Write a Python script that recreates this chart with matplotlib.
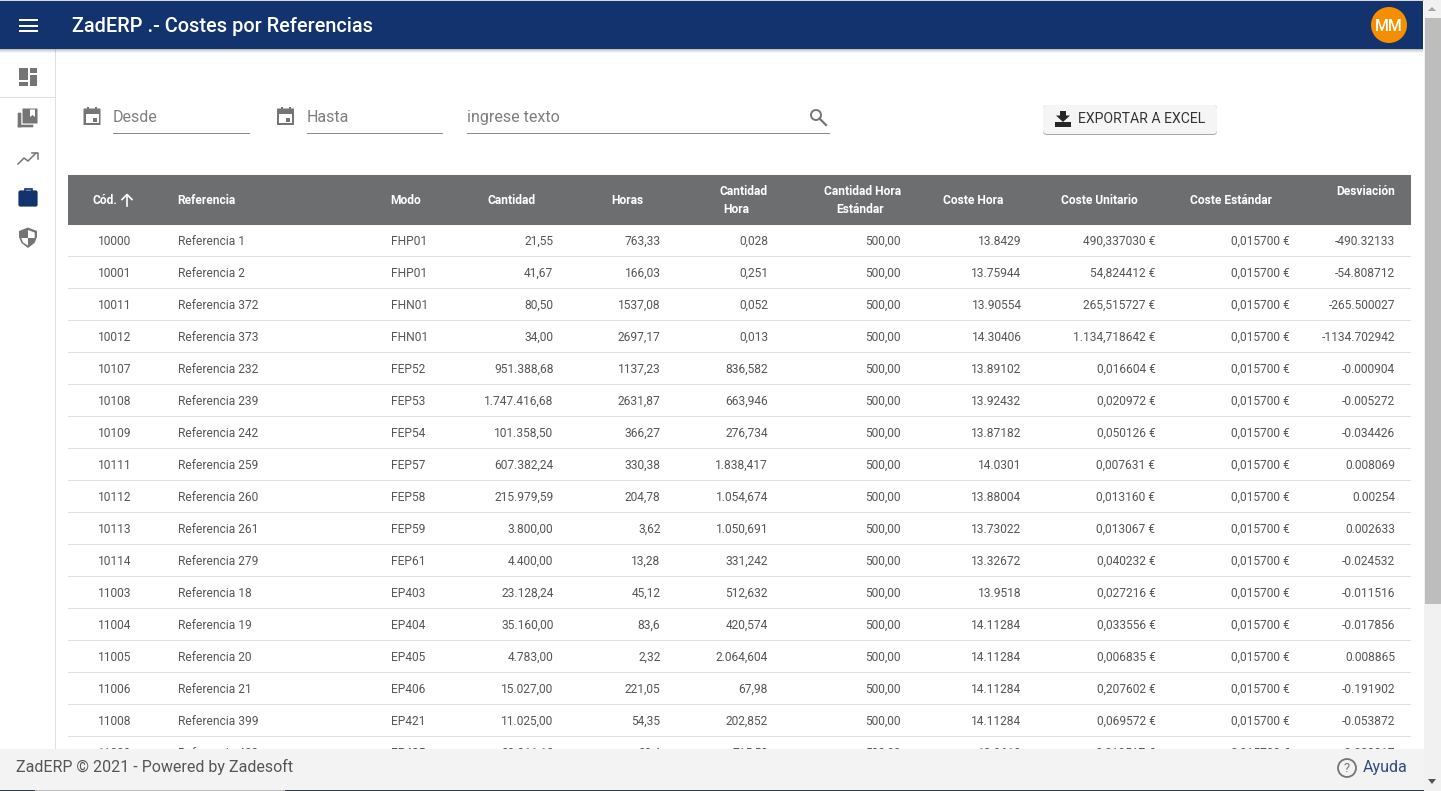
import matplotlib
matplotlib.use("Agg")
import matplotlib.pyplot as plt
from matplotlib.patches import Rectangle, Circle, Polygon, FancyBboxPatch

W, H = 1441, 791
plt.rcParams['font.family'] = ['Roboto', 'DejaVu Sans']

codes = ["10000","10001","10011","10012","10107","10108","10109","10111","10112","10113","10114","11003","11004","11005","11006","11008","11009"]
refs = ["Referencia 1","Referencia 2","Referencia 372","Referencia 373","Referencia 232","Referencia 239","Referencia 242","Referencia 259","Referencia 260","Referencia 261","Referencia 279","Referencia 18","Referencia 19","Referencia 20","Referencia 21","Referencia 399","Referencia 400"]
modos = ["FHP01","FHP01","FHN01","FHN01","FEP52","FEP53","FEP54","FEP57","FEP58","FEP59","FEP61","EP403","EP404","EP405","EP406","EP421","EP425"]
cantidad = ["21,55","41,67","80,50","34,00","951.388,68","1.747.416,68","101.358,50","607.382,24","215.979,59","3.800,00","4.400,00","23.128,24","35.160,00","4.783,00","15.027,00","11.025,00","20.311,10"]
horas = ["763,33","166,03","1537,08","2697,17","1137,23","2631,87","366,27","330,38","204,78","3,62","13,28","45,12","83,6","2,32","221,05","54,35","28,4"]
cant_hora = ["0,028","0,251","0,052","0,013","836,582","663,946","276,734","1.838,417","1.054,674","1.050,691","331,242","512,632","420,574","2.064,604","67,98","202,852","715,53"]
cant_std = ["500,00"] * 17
coste_hora = ["13.8429","13.75944","13.90554","14.30406","13.89102","13.92432","13.87182","14.0301","13.88004","13.73022","13.32672","13.9518","14.11284","14.11284","14.11284","14.11284","13.9610"]
coste_unit = ["490,337030 €","54,824412 €","265,515727 €","1.134,718642 €","0,016604 €","0,020972 €","0,050126 €","0,007631 €","0,013160 €","0,013067 €","0,040232 €","0,027216 €","0,033556 €","0,006835 €","0,207602 €","0,069572 €","0,019517 €"]
coste_std = ["0,015700 €"] * 17
desv = ["-490.32133","-54.808712","-265.500027","-1134.702942","-0.000904","-0.005272","-0.034426","0.008069","0.00254","0.002633","-0.024532","-0.011516","-0.017856","0.008865","-0.191902","-0.053872","-0.003817"]

NAVY = "#12336E"; HEAD = "#6D6E70"; GREY = "#757575"; TXT = "#555555"

fig = plt.figure(figsize=(W/100, H/100), dpi=100, facecolor="white")
ax = fig.add_axes([0, 0, 1, 1])
ax.set_xlim(0, W); ax.set_ylim(H, 0); ax.axis("off")

def rect(x, y, w, h, c, z=1, **k):
    ax.add_patch(Rectangle((x, y), w, h, facecolor=c, edgecolor="none", zorder=z, **k))
def text(x, y, s, size=12, c=TXT, ha="left", va="baseline", w="normal", z=3, **k):
    ax.text(x, y, s, fontsize=size*0.72, color=c, ha=ha, va=va, fontweight=w, zorder=z, **k)

# ---- table rows
rows = list(zip(codes, refs, modos, cantidad, horas, cant_hora, cant_std, coste_hora, coste_unit, coste_std, desv))
col_x = [115, 177.5, 390.5, 553.5, 660.5, 768, 901, 1021.5, 1155.5, 1289.5, 1395]
col_ha = ["center", "left", "left"] + ["right"] * 8
for i, row in enumerate(rows):
    y = 241 + 32 * i
    for x, ha, s in zip(col_x, col_ha, row):
        text(x, y + 4, s, ha=ha)
    rect(68, y + 15, 1343, 1, "#E0E0E0", 2)

# ---- table header
rect(68, 175, 1343, 50, HEAD)
HW = "bold"
text(92.5, 204, "Cód.", c="white", w=HW)
ax.plot([127, 127], [194.5, 205.5], color="white", lw=1.2, zorder=3)
ax.plot([122, 127, 132], [199.5, 194.5, 199.5], color="white", lw=1.2, zorder=3)
for x, ha, s in [(177.5, "left", "Referencia"), (390.5, "left", "Modo"), (536, "right", "Cantidad"),
                 (643, "right", "Horas"), (1003.5, "right", "Coste Hora"), (1137.5, "right", "Coste Unitario"),
                 (1271.5, "right", "Coste Estándar")]:
    text(x, 204, s, c="white", ha=ha, w=HW)
text(719, 195, "Cantidad", c="white", w=HW)
text(723, 213, "Hora", c="white", w=HW)
text(824, 195, "Cantidad Hora", c="white", w=HW)
text(836, 213, "Estándar", c="white", w=HW)
text(1395, 195, "Desviación", c="white", ha="right", w=HW)

# ---- sidebar
rect(55, 49, 1, 701, "#E0E0E0", 2)
rect(0, 97, 55, 1, "#E0E0E0", 2)
rect(19, 68, 9, 12, GREY, 3); rect(19, 82, 9, 4, GREY, 3)
rect(30, 68, 7, 5, GREY, 3); rect(30, 75, 7, 11, GREY, 3)
# library icon
ax.add_patch(FancyBboxPatch((18, 113), 3, 14, boxstyle="round,pad=0.3", fc=GREY, ec="none", zorder=3))
ax.add_patch(FancyBboxPatch((18, 125), 15, 2, boxstyle="round,pad=0.3", fc=GREY, ec="none", zorder=3))
ax.add_patch(FancyBboxPatch((23, 109), 14, 14, boxstyle="round,pad=0.5", fc=GREY, ec="none", zorder=3))
ax.add_patch(Polygon([(30, 109.5), (35, 109.5), (35, 117), (32.5, 115), (30, 117)], fc="white", ec="none", zorder=4))
# trending icon
ax.plot([18, 24, 28, 36], [164, 158, 161, 153], color=GREY, lw=1.1, zorder=3)
ax.plot([31.5, 37.5, 37.5], [152.5, 152.5, 158.5], color=GREY, lw=1.1, zorder=3)
# briefcase
ax.add_patch(FancyBboxPatch((19, 191), 18, 15, boxstyle="round,pad=0.6,rounding_size=2", fc=NAVY, ec="none", zorder=3))
ax.add_patch(Rectangle((24.5, 188.5), 7, 3, fc="none", ec=NAVY, lw=1.2, zorder=3))
# shield
ax.add_patch(Polygon([(28, 227.5), (37, 231), (37, 237), (34.5, 243), (28, 248), (21.5, 243), (19, 237), (19, 231)], fc=GREY, ec="none", zorder=3))
ax.add_patch(Polygon([(28, 230), (34.7, 232.6), (34.7, 238), (28, 238)], fc="white", ec="none", zorder=4))
ax.add_patch(Polygon([(28, 238), (21.3, 238), (23, 242.5), (28, 245.6)], fc="white", ec="none", zorder=4))

# ---- filters
def calendar(cx):
    ax.add_patch(FancyBboxPatch((cx - 8, 109), 16, 15.5, boxstyle="round,pad=0.5", fc=GREY, ec="none", zorder=3))
    rect(cx - 6.5, 113.5, 13, 9.5, "white", 4)
    rect(cx + 0.5, 117.5, 4, 4, GREY, 5)
    rect(cx - 5, 106.5, 2, 3, GREY, 3); rect(cx + 3, 106.5, 2, 3, GREY, 3)
calendar(92); calendar(285.5)
FIELD = "#7E7E7E"
text(113, 122, "Desde", size=16, c=FIELD)
text(307, 122, "Hasta", size=16, c=FIELD)
text(467, 122, "ingrese texto", size=16, c=FIELD)
rect(113, 133, 137, 1, "#8A8A8A", 2)
rect(307, 133, 136, 1, "#8A8A8A", 2)
rect(467, 133, 363, 1, "#8A8A8A", 2)
ax.add_patch(Circle((816, 115), 5, fc="none", ec=GREY, lw=1.4, zorder=3))
ax.plot([819.5, 826], [118.5, 125], color=GREY, lw=1.6, zorder=3)

# ---- export button
ax.add_patch(FancyBboxPatch((1045, 107), 170, 26, boxstyle="round,pad=2,rounding_size=4", fc="#A8A8A8", ec="none", zorder=2))
ax.add_patch(FancyBboxPatch((1045, 107), 170, 25, boxstyle="round,pad=2,rounding_size=4", fc="#F5F5F5", ec="none", zorder=3))
text(1078.5, 123, "EXPORTAR A EXCEL", size=14, c="#333333", z=4)
ax.add_patch(Polygon([(1060, 111), (1066, 111), (1066, 115.5), (1070, 115.5), (1063, 122), (1056, 115.5), (1060, 115.5)], fc="#262626", ec="none", zorder=4))
rect(1055, 122, 16, 5, "#262626", 4)

# ---- app bar
for k, a in enumerate([0.25, 0.16, 0.09, 0.04]):
    rect(0, 49 + k, 1423, 1, "#000000", 7, alpha=a)
rect(0, 1, 1423, 48, NAVY, 8)
rect(0, 0, W, 1, "#DADADA", 9)
for y in [20, 25.5, 31]:
    rect(18.5, y - 1, 19, 2, "white", 9)
text(71.5, 32, "ZadERP .- Costes por Referencias", size=19.85, c="white", w="medium", z=9)
ax.add_patch(Circle((1389, 25), 18, fc="#F58F00", ec="none", zorder=9))
text(1389, 31, "MM", size=16, c="white", ha="center", w="medium", z=10)

# ---- footer
rect(0, 749, 1424, 42, "#F3F3F3", 6)
rect(0, 790, W, 1, "#2B3B46", 7)
rect(35, 790, 250, 1, "#BDBDBD", 7.5)
text(16, 772, "ZadERP © 2021 - Powered by Zadesoft", size=16, c="#555555", z=8)
ax.add_patch(Circle((1347, 768), 9, fc="none", ec=GREY, lw=1.3, zorder=8))
text(1347, 768, "?", size=13, c=GREY, ha="center", va="center", z=8)
text(1363, 772, "Ayuda", size=16, c="#2F4A85", z=8)

# ---- scrollbar
rect(1424, 0, 17, H, "#F1F1F1", 10)
rect(1425, 18, 16, 586, "#BDBDBD", 11)
ax.add_patch(Polygon([(1428, 11), (1436, 11), (1432, 7)], fc="#A3A3A3", ec="none", zorder=11))
ax.add_patch(Polygon([(1428, 779), (1436, 779), (1432, 784)], fc="#555555", ec="none", zorder=11))

fig.savefig("out.png", dpi=100, facecolor="white")
